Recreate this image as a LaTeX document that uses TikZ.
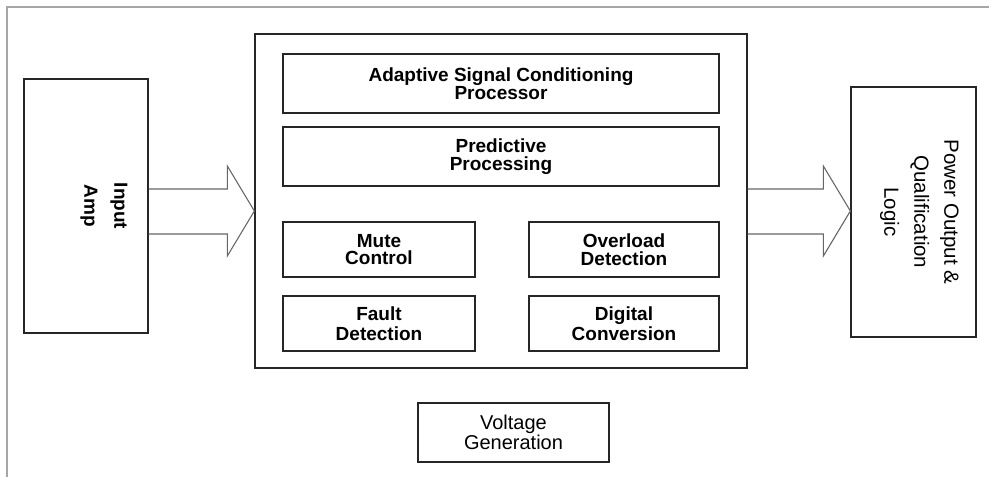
\documentclass[tikz,border=0pt]{standalone}
\usepackage{fontspec}
\setmainfont{Liberation Sans}
\usetikzlibrary{calc}

\begin{document}
\begin{tikzpicture}[x=1pt,y=-1pt,
    blockbox/.style={draw=black!85,line width=1.3pt,inner sep=0pt},
    innerbox/.style={blockbox,align=center,font=\bfseries\fontsize{19}{18.5}\selectfont},
    sidetext/.style={rotate=-90,align=center,font=\fontsize{20.5}{30}\selectfont},
    bigarrow/.style={draw=black!60,line width=1.1pt,line join=miter}]
\useasboundingbox (0,0) rectangle (989,477);
\draw[gray!70,line width=1.2pt] (7,477) -- (7,7) -- (989,7);

% left and right blocks
\node[blockbox,minimum width=124pt,minimum height=254pt] (amp) at (86,206) {};
\node[sidetext,font=\bfseries\fontsize{19}{30}\selectfont] (amptext) at ([xshift=18pt]amp.center) {Input\\Amp};
\node[blockbox,minimum width=125pt,minimum height=250pt] (power) at (913.5,212) {};
\node[sidetext] (powertext) at ([xshift=6pt]power.center) {Power Output \&\\Qualification\\Logic};

% processor block
\node[blockbox,minimum width=492pt,minimum height=334pt] (core) at (501,201) {};
\node[innerbox,minimum width=436pt,minimum height=59pt] (ascp) at (501,83.5) {Adaptive Signal Conditioning\\Processor};
\node[innerbox,minimum width=436pt,minimum height=59pt,font=\bfseries\fontsize{19}{17.5}\selectfont] (pred) at (501,156.5) {Predictive\\Processing};
\node[innerbox,minimum width=192pt,minimum height=55pt,font=\bfseries\fontsize{19}{17.5}\selectfont] (mute) at (379,249.5) {Mute\\Control};
\node[innerbox,minimum width=190pt,minimum height=55pt,font=\bfseries\fontsize{19}{17.5}\selectfont] (over) at (624,249.5) {Overload\\Detection};
\node[innerbox,minimum width=192pt,minimum height=55pt,font=\bfseries\fontsize{19}{20}\selectfont] (fault) at (379,323.5) {Fault\\Detection};
\node[innerbox,minimum width=190pt,minimum height=55pt,font=\bfseries\fontsize{19}{20}\selectfont] (digit) at (624,323.5) {Digital\\Conversion};

\node[blockbox,align=center,minimum width=191pt,minimum height=59pt,font=\fontsize{20}{18.5}\selectfont] (volt) at (513.5,432.5) {Voltage\\Generation};

% block arrows
\foreach \from/\to in {amp/core, core/power}
  \draw[bigarrow] let \p1=(\from.east), \p2=(\to.west) in
    (\x1,-189pt) -- (\x2-27pt,-189pt) -- (\x2-27pt,-166pt) -- (\x2,-211pt)
    -- (\x2-27pt,-256pt) -- (\x2-27pt,-234pt) -- (\x1,-234pt);
\end{tikzpicture}
\end{document}
